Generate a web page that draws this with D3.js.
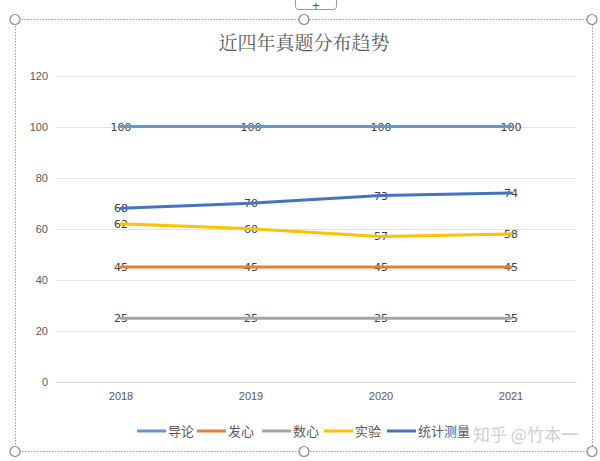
<!DOCTYPE html>
<html><head><meta charset="utf-8">
<script src="https://cdn.jsdelivr.net/npm/d3@7"></script>
<style>html,body{margin:0;padding:0;background:#fff;}svg{display:block;}</style>
</head><body><svg id="c" width="600" height="461"></svg>
<script>
const years = ["2018","2019","2020","2021"];
const seriesNames = ["导论","发心","数心","实验","统计测量"];
const s导论 = [100,100,100,100];
const s发心 = [45,45,45,45];
const s数心 = [25,25,25,25];
const s实验 = [62,60,57,58];
const s统计测量 = [68,70,73,74];
const yTicks = [0,20,40,60,80,100,120];
const colors = ["#5B9BD5","#ED7D31","#A5A5A5","#FFC000","#4472C4"];
const seriesValues = [s导论,s发心,s数心,s实验,s统计测量];

const svg = d3.select("#c");
const cjk = "'Noto Sans CJK SC','Noto Sans',sans-serif";

// frame (selection box)
svg.append("rect").attr("x",15.5).attr("y",19.5).attr("width",577).attr("height",432)
  .attr("fill","none").attr("stroke","#9a9a9a").attr("stroke-width",1).attr("stroke-dasharray","1.5,1.5");
// plus button
svg.append("rect").attr("x",295.5).attr("y",-4.5).attr("width",41).attr("height",14).attr("rx",3)
  .attr("fill","#fff").attr("stroke","#9a9a9a");
svg.append("text").attr("x",316).attr("y",9).attr("text-anchor","middle").attr("font-size",10)
  .attr("fill","#555").attr("font-family","DejaVu Sans").text("+");
const handles = [[15,19.5],[304,19.5],[592,19.5],[15,451.5],[304,451.5],[592,451.5]];
svg.selectAll("circle.h").data(handles).join("circle").attr("class","h")
  .attr("cx",d=>d[0]).attr("cy",d=>d[1]).attr("r",5)
  .attr("fill","#fff").attr("stroke","#8a8a8a").attr("stroke-width",1.2);

// title
svg.append("text").attr("x",304).attr("y",50).attr("text-anchor","middle")
  .attr("font-family","'Noto Serif CJK SC','Noto Sans CJK SC',serif").attr("font-size",19)
  .attr("fill","#595959").text("近四年真题分布趋势");

const x = d3.scaleBand().domain(years).range([56,576]);
const y = d3.scaleLinear().domain([0,120]).range([382,75.5]);

// gridlines
svg.append("g").selectAll("line").data(yTicks).join("line")
  .attr("x1",56).attr("x2",576).attr("y1",d=>Math.round(y(d))+0.5).attr("y2",d=>Math.round(y(d))+0.5)
  .attr("stroke","#e3e3e3").attr("stroke-width",1);

// y axis
const yAxis = svg.append("g").attr("transform","translate(56,0)")
  .call(d3.axisLeft(y).tickValues(yTicks).tickSize(0).tickPadding(8));
yAxis.select(".domain").remove();
yAxis.selectAll("text").attr("font-family","'Liberation Sans',Arial,sans-serif").attr("font-size",11).attr("fill","#595959");

// x axis
const xAxis = svg.append("g").attr("transform","translate(0,382)")
  .call(d3.axisBottom(x).tickSize(0).tickPadding(10));
xAxis.select(".domain").attr("stroke","#d9d9d9");
xAxis.selectAll("text").attr("font-family","'Liberation Sans',Arial,sans-serif").attr("font-size",11).attr("fill","#595959");

const cx = d => x(d) + x.bandwidth()/2;
const line = d3.line().x((v,i)=>cx(years[i])).y(v=>y(v));

// labels (under lines)
seriesValues.forEach((vals,si)=>{
  svg.append("g").selectAll("text").data(vals).join("text")
    .attr("x",(v,i)=>cx(years[i])).attr("y",v=>y(v)+4)
    .attr("text-anchor","middle").attr("font-family","'DejaVu Sans',sans-serif").attr("font-size",11)
    .attr("fill","#404040").text(v=>v);
});
seriesValues.forEach((vals,si)=>{
  svg.append("path").datum(vals).attr("d",line).attr("fill","none")
    .attr("stroke",colors[si]).attr("stroke-width",3).attr("stroke-linecap","round");
});

// legend
const legX = [137,197,262,324,387];
const lg = svg.append("g");
seriesNames.forEach((n,i)=>{
  lg.append("line").attr("x1",legX[i]).attr("x2",legX[i]+29).attr("y1",431).attr("y2",431)
    .attr("stroke",colors[i]).attr("stroke-width",3);
  lg.append("text").attr("x",legX[i]+31).attr("y",436).attr("font-family",cjk).attr("font-size",13)
    .attr("fill","#595959").text(n);
});
// watermark
svg.append("text").attr("x",473).attr("y",441).attr("font-family",cjk).attr("font-size",17)
  .attr("fill","#cfcfcf").text("知乎 @竹本一");
</script></body></html>
